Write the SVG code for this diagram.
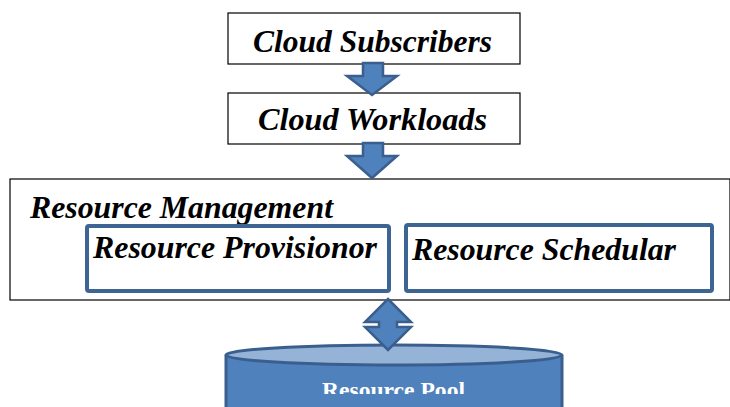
<svg xmlns="http://www.w3.org/2000/svg" width="730" height="407" viewBox="0 0 730 407">
<style>
.lbl{font-family:'Liberation Serif','Times New Roman',Times,serif;font-weight:700;font-style:italic;font-size:31.5px;fill:#000}
.box{fill:#fff;stroke:#000;stroke-width:1.2}
.inner{fill:#fff;stroke:#3e6494;stroke-width:4}
.arw{fill:#4f81bd;stroke:#3a5f8e;stroke-width:2.5;stroke-linejoin:miter}
.pool{font-family:'Liberation Serif','Times New Roman',Times,serif;font-weight:700;font-size:23.5px;fill:#fff}
</style>
<defs>
<clipPath id="poolclip"><rect x="200" y="370" width="400" height="24"/></clipPath>
</defs>
<rect width="730" height="407" fill="#fff"/>
<g id="resource-management">
<rect class="box" x="10" y="179" width="720" height="121"/>
<text class="lbl" x="30" y="218" textLength="303" lengthAdjust="spacingAndGlyphs">Resource Management</text>
</g>
<g id="cloud-subscribers">
<rect class="box" x="228" y="13" width="292" height="51"/>
<text class="lbl" x="253" y="52" textLength="239" lengthAdjust="spacingAndGlyphs">Cloud Subscribers</text>
</g>
<g id="cloud-workloads">
<rect class="box" x="228" y="93" width="292" height="51"/>
<text class="lbl" x="258" y="130" textLength="229" lengthAdjust="spacingAndGlyphs">Cloud Workloads</text>
</g>
<g id="resource-provisionor">
<rect class="inner" x="87" y="226" width="302" height="65" rx="2"/>
<text class="lbl" x="93" y="258" textLength="284" lengthAdjust="spacingAndGlyphs">Resource Provisionor</text>
</g>
<g id="resource-schedular">
<rect class="inner" x="406" y="225" width="306" height="66" rx="2"/>
<text class="lbl" x="412" y="260" textLength="264" lengthAdjust="spacingAndGlyphs">Resource Schedular</text>
</g>
<g id="resource-pool">
<path d="M226,355 L226,420 L562,420 L562,355" fill="#4f81bd" stroke="#3a5f8e" stroke-width="3"/>
<ellipse cx="394" cy="355" rx="168" ry="10" fill="#95b3d7" stroke="#3a5f8e" stroke-width="3"/>
<text class="pool" x="322" y="398" textLength="143" lengthAdjust="spacingAndGlyphs" clip-path="url(#poolclip)">Resource Pool</text>
</g>
<g id="connectors">
<path class="arw" d="M363,63 L383,63 L383,76 L397,76 L372,95 L347,76 L363,76 Z"/>
<path class="arw" d="M363,143 L383,143 L383,156 L397,156 L372,178 L347,156 L363,156 Z"/>
<path class="arw" d="M388,299 L411,322 L397,322 L397,327 L411,327 L388,350 L365,327 L379,327 L379,322 L365,322 Z"/>
</g>
</svg>
